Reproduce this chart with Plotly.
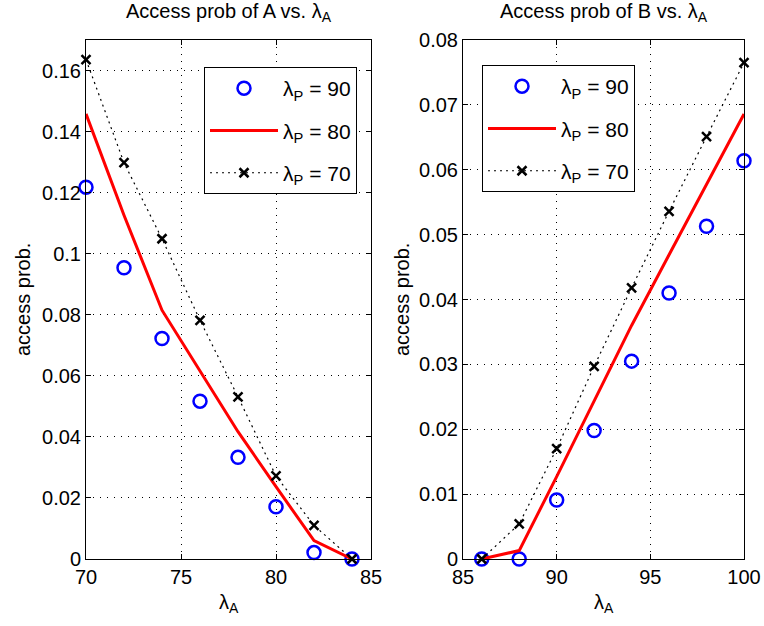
import plotly.graph_objects as go

# Arrival rates of A (x axis) for each panel
lam_a_left = [70, 72, 74, 76, 78, 80, 82, 84]
lam_a_right = [86, 88, 90, 92, 94, 96, 98, 100]

# Access probability of A for three values of lambda_P
acc_a_p90 = [0.1218, 0.0954, 0.0722, 0.0517, 0.0333, 0.0171, 0.0021, 0.0]
acc_a_p80 = [0.1458, 0.1126, 0.0815, 0.0618, 0.0417, 0.0237, 0.0060, 0.0]
acc_a_p70 = [0.1636, 0.1298, 0.1049, 0.0782, 0.0531, 0.0272, 0.0110, 0.0]

# Access probability of B for three values of lambda_P
acc_b_p90 = [0.0, 0.0, 0.0091, 0.0198, 0.0305, 0.0410, 0.0513, 0.0614]
acc_b_p80 = [0.0, 0.0013, 0.0127, 0.0243, 0.0360, 0.0469, 0.0578, 0.0686]
acc_b_p70 = [0.0, 0.0054, 0.0170, 0.0297, 0.0418, 0.0536, 0.0651, 0.0765]

series_names = ["λ<sub>P</sub> = 90", "λ<sub>P</sub> = 80", "λ<sub>P</sub> = 70"]

left_yticks = [0, 0.02, 0.04, 0.06, 0.08, 0.1, 0.12, 0.14, 0.16]
left_ytext = ["0", "0.02", "0.04", "0.06", "0.08", "0.1", "0.12", "0.14", "0.16"]
right_yticks = [0, 0.01, 0.02, 0.03, 0.04, 0.05, 0.06, 0.07, 0.08]
right_ytext = ["0", "0.01", "0.02", "0.03", "0.04", "0.05", "0.06", "0.07", "0.08"]
left_xticks = [70, 75, 80, 85]
right_xticks = [85, 90, 95, 100]

FONT = "Liberation Sans, Arial, sans-serif"
FS = 20
W, H = 764, 626

fig = go.Figure()


def add_panel(x, p90, p80, p70, xa, ya, leg):
    fig.add_trace(go.Scatter(
        x=x, y=p90, mode="markers", name=series_names[0], legendgroup=leg + "a",
        marker=dict(symbol="circle-open", size=13, color="#0000ff",
                    line=dict(width=2.5, color="#0000ff")),
        xaxis=xa, yaxis=ya, legend=leg, cliponaxis=False))
    fig.add_trace(go.Scatter(
        x=x, y=p80, mode="lines", name=series_names[1], legendgroup=leg + "b",
        line=dict(color="#ff0000", width=3),
        xaxis=xa, yaxis=ya, legend=leg, cliponaxis=False))
    fig.add_trace(go.Scatter(
        x=x, y=p70, mode="lines+markers", name=series_names[2], legendgroup=leg + "c",
        line=dict(color="black", width=1.2, dash="2px,4px"),
        marker=dict(symbol="x-thin-open", size=9, color="black",
                    line=dict(width=2.5, color="black")),
        xaxis=xa, yaxis=ya, legend=leg, cliponaxis=False))


add_panel(lam_a_left, acc_a_p90, acc_a_p80, acc_a_p70, "x", "y", "legend")
add_panel(lam_a_right, acc_b_p90, acc_b_p80, acc_b_p70, "x2", "y2", "legend2")

# plot-area placement (pixels)
left_x0, left_x1 = 86, 371
right_x0, right_x1 = 463, 744
top_px, bot_px = 40, 559

ydom = [1 - bot_px / H, 1 - top_px / H]

axis_common = dict(
    showline=True, linecolor="black", linewidth=1, mirror="allticks",
    ticks="inside", ticklen=5, tickcolor="black", tickwidth=1,
    showgrid=True, gridcolor="black", gridwidth=1, griddash="1px,6px",
    zeroline=False, automargin=False,
    tickfont=dict(family=FONT, size=FS, color="black"),
)

legend_common = dict(
    xanchor="left", yanchor="top", bgcolor="white", bordercolor="black",
    borderwidth=1, itemwidth=68, tracegroupgap=12,
    font=dict(family=FONT, size=21, color="black"),
)

fig.update_layout(
    width=W, height=H,
    margin=dict(l=0, r=0, t=0, b=0),
    paper_bgcolor="white", plot_bgcolor="white",
    font=dict(family=FONT, size=FS, color="black"),
    xaxis=dict(domain=[left_x0 / W, left_x1 / W], range=[70, 85],
               tickvals=left_xticks, anchor="y", **axis_common),
    yaxis=dict(domain=ydom, range=[0, 0.17], tickvals=left_yticks,
               ticktext=left_ytext, anchor="x", **axis_common),
    xaxis2=dict(domain=[right_x0 / W, right_x1 / W], range=[85, 100],
                tickvals=right_xticks, anchor="y2", **axis_common),
    yaxis2=dict(domain=ydom, range=[0, 0.08], tickvals=right_yticks,
                ticktext=right_ytext, anchor="x2", **axis_common),
    legend=dict(x=204 / W, y=1 - 67 / H, **legend_common),
    legend2=dict(x=482 / W, y=1 - 65 / H, **legend_common),
    showlegend=True,
)

# panel titles and axis labels
ann = []
for cx, title in [((left_x0 + left_x1) / 2, "Access prob of A vs. λ<sub>A</sub>"),
                  ((right_x0 + right_x1) / 2, "Access prob of B vs. λ<sub>A</sub>")]:
    ann.append(dict(text=title, x=cx / W, y=1 - 13 / H, xref="paper", yref="paper",
                    xanchor="center", yanchor="middle", showarrow=False,
                    font=dict(family=FONT, size=FS, color="black")))
    ann.append(dict(text="λ<sub>A</sub>", x=cx / W, y=1 - 603 / H, xref="paper",
                    yref="paper", xanchor="center", yanchor="middle", showarrow=False,
                    font=dict(family=FONT, size=FS, color="black")))
for lx in [23, 402]:
    ann.append(dict(text="access prob.", x=lx / W, y=1 - 300 / H, xref="paper",
                    yref="paper", xanchor="center", yanchor="middle", textangle=-90,
                    showarrow=False, font=dict(family=FONT, size=FS, color="black")))
fig.update_layout(annotations=ann)

fig.write_html("out.html")
